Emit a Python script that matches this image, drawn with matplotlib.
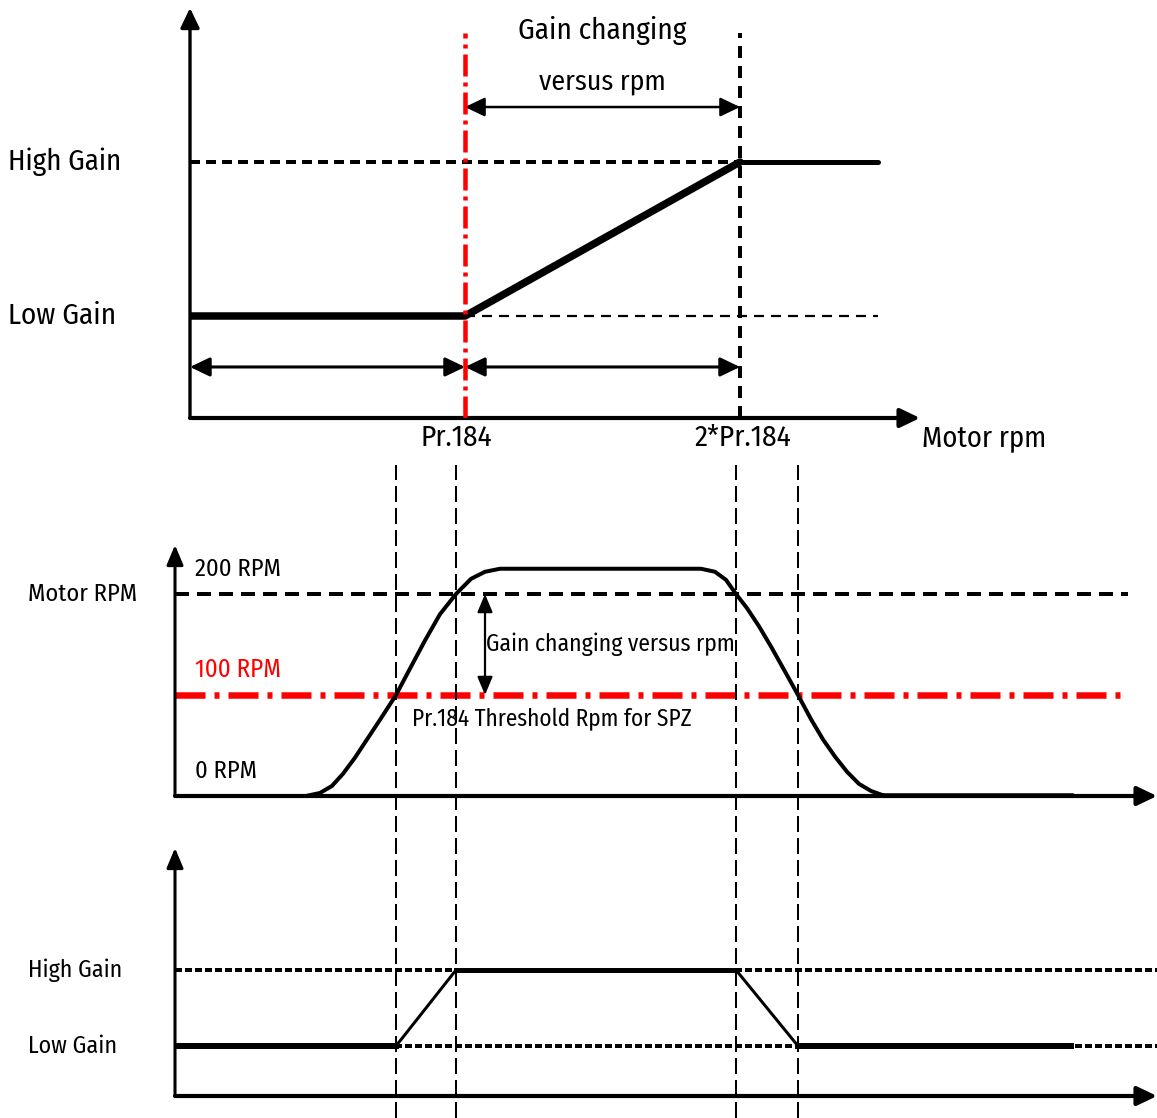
import numpy as np
import matplotlib
matplotlib.use("Agg")
import matplotlib.pyplot as plt
import matplotlib.transforms as mtransforms
from matplotlib import font_manager as fm

# ---- data ----
# top panel: gain versus motor rpm (Pr.184 taken as 100 rpm)
rpm_ticks = [100, 200]
rpm_tick_labels = ["Pr.184", "2*Pr.184"]
ramp_rpm = [0, 100, 200]
ramp_gain = [0, 0, 1]
hold_rpm = [200, 250]
hold_gain = [1, 1]
gain_names = ["Low Gain", "High Gain"]

# middle panel: motor speed profile over time (ms)
speed_t = [0, 131, 145, 157, 168, 180, 192, 206, 221, 236, 250, 265, 281, 296, 310, 325,
           526, 540, 551, 561, 572, 584, 596, 609, 623, 636, 648, 660, 672, 684, 696, 710, 896]
speed_rpm = [0, 0, 3, 10, 22, 38, 56, 77, 100, 128, 154, 180, 200, 215, 222, 225,
             225, 222, 214, 200, 186, 168, 148, 125, 100, 76, 56, 39, 24, 12, 5, 0, 0]
rpm_levels = [0, 100, 200]
rpm_level_labels = ["0 RPM", "100 RPM", "200 RPM"]
threshold_rpm = 100
upper_rpm = 200

# bottom panel: gain state over time
switch_t = [221, 281, 561, 623]
gain_t = [0, 221, 281, 561, 623, 896]
gain_state = [0, 0, 1, 1, 0, 0]

# ---- font: a narrow humanist face if one is around ----
have = {f.name for f in fm.fontManager.ttflist}
narrow = [n for n in ("Fira Sans Condensed", "PT Sans Narrow", "Roboto Condensed",
                      "Open Sans Condensed", "Sofia Sans Semi Condensed",
                      "Liberation Sans Narrow", "Archivo Narrow") if n in have]
plt.rcParams['font.family'] = narrow[:1] + ['DejaVu Sans']
plt.rcParams['lines.scale_dashes'] = False

# ---- figure ----
W, H = 1157, 1118
fig = plt.figure(figsize=(W / 100, H / 100), dpi=100)
fig.patch.set_facecolor('white')
renderer = fig.canvas.get_renderer()
RED = '#ff0000'
PX = 0.72  # points per pixel at dpi 100


def panel(left, top, right, bottom, xlim, ylim):
    ax = fig.add_axes([left / W, 1 - bottom / H, (right - left) / W, (bottom - top) / H])
    ax.set_xlim(*xlim)
    ax.set_ylim(*ylim)
    ax.axis('off')
    return ax


def arrow(ax, p0, p1, style='-|>', lw=3, ms=12, hl=1.0, hw=0.48):
    ax.annotate('', xy=p1, xytext=p0, annotation_clip=False,
                arrowprops=dict(arrowstyle=f'{style},head_length={hl},head_width={hw}',
                                lw=lw, color='k', mutation_scale=ms,
                                shrinkA=0, shrinkB=0))


def label(x, y, s, width_px, transform, ha='left', color='k'):
    t = fig.text(x, y, s, ha=ha, va='center', color=color, fontsize=20,
                 transform=transform)
    w = t.get_window_extent(renderer).width
    t.set_fontsize(20 * width_px / w)
    return t


def dash(px_list):
    return [p * PX for p in px_list]


# ---- top: gain vs motor rpm ----
ax1 = panel(190, 8, 920, 418, (0, 730 / 2.75), (-102 / 154, 308 / 154))
y_lo1, y_hi1 = ax1.get_ylim()
x_hi1 = ax1.get_xlim()[1]
arrow(ax1, (0, y_lo1), (0, y_hi1), lw=2.4)
arrow(ax1, (0, y_lo1), (x_hi1, y_lo1), lw=3)
top_guide = 1.838
ax1.plot([rpm_ticks[1]] * 2, [y_lo1, top_guide], color='k', lw=4 * PX, dashes=dash([12, 8]))
ax1.plot([0, rpm_ticks[1]], [1, 1], color='k', lw=4 * PX, dashes=dash([10, 6]))
ax1.plot([rpm_ticks[0], hold_rpm[1]], [0, 0], color='k', lw=2.2 * PX, dashes=dash([10, 7]))
ax1.plot(ramp_rpm, ramp_gain, color='k', lw=7.5 * PX, solid_capstyle='round',
         solid_joinstyle='round', zorder=3)
ax1.plot(hold_rpm, hold_gain, color='k', lw=5 * PX, solid_capstyle='round', zorder=3)
ax1.plot([rpm_ticks[0]] * 2, [y_lo1, top_guide], color=RED, lw=4.5 * PX,
         dashes=dash([22, 6, 4, 6]), zorder=4)
arrow(ax1, (0, -0.331), (rpm_ticks[0], -0.331), style='<|-|>', lw=2.2)
arrow(ax1, (rpm_ticks[0], -0.331), (rpm_ticks[1], -0.331), style='<|-|>', lw=2.2)
arrow(ax1, (rpm_ticks[0], 1.357), (rpm_ticks[1], 1.357), style='<|-|>', lw=1.8)

blend_l1 = mtransforms.blended_transform_factory(fig.transFigure, ax1.transData)
label(8 / W, 1, gain_names[1], 113, blend_l1)
label(8 / W, 0, gain_names[0], 108, blend_l1)
label(150, 1.857, "Gain changing", 168, ax1.transData, ha='center')
label(150, 1.519, "versus rpm", 127, ax1.transData, ha='center')
label(rpm_ticks[0] - 3.3, -0.792, rpm_tick_labels[0], 72, ax1.transData, ha='center')
label(rpm_ticks[1] + 1, -0.792, rpm_tick_labels[1], 97, ax1.transData, ha='center')
label(x_hi1 + 0.7, -0.792, "Motor rpm", 124, ax1.transData)

# ---- middle: motor rpm vs time ----
ax2 = panel(175, 545, 1157, 796, (0, 982), (0, 251 / 1.01))
x_hi2 = ax2.get_xlim()[1]
y_hi2 = ax2.get_ylim()[1]
arrow(ax2, (0, 0), (0, y_hi2), lw=2.2, hw=0.42)
arrow(ax2, (0, 0), (x_hi2, 0), lw=3)
ax2.plot([0, 953], [upper_rpm] * 2, color='k', lw=4 * PX, dashes=dash([14, 8]))
ax2.plot([0, 953], [threshold_rpm] * 2, color=RED, lw=6.5 * PX, dashes=dash([30, 9, 5, 9]))
ax2.plot(speed_t, speed_rpm, color='k', lw=4 * PX, solid_joinstyle='round', zorder=3)
ax2.plot(speed_t[-2:], speed_rpm[-2:], color='k', lw=5.5 * PX, zorder=3)
arrow(ax2, (310, upper_rpm), (310, threshold_rpm), style='<|-|>', lw=1.6, ms=11, hw=0.42)

blend_l2 = mtransforms.blended_transform_factory(fig.transFigure, ax2.transData)
for lvl, txt in zip(rpm_levels, rpm_level_labels):
    label(195 / W, lvl + 25, txt, 86 if lvl else 62, blend_l2,
          color=RED if lvl == threshold_rpm else 'k')
label(28 / W, upper_rpm, "Motor RPM", 109, blend_l2)
label(311, 150.5, "Gain changing versus rpm", 249, ax2.transData)
label(237, 76.2, "Pr.184 Threshold Rpm for SPZ", 280, ax2.transData)

# ---- bottom: gain vs time ----
ax3 = panel(175, 848, 1157, 1096, (0, 982), (-50 / 76, 198 / 76))
y_lo3, y_hi3 = ax3.get_ylim()
arrow(ax3, (0, y_lo3), (0, y_hi3), lw=2.2, hw=0.42)
arrow(ax3, (0, y_lo3), (x_hi2, y_lo3), lw=3)
for g in (0, 1):
    ax3.plot([0, x_hi2], [g, g], color='k', lw=4 * PX, dashes=dash([7, 3]))
ax3.plot(gain_t[:2], gain_state[:2], color='k', lw=6 * PX, zorder=3)
ax3.plot(gain_t[4:], gain_state[4:], color='k', lw=6 * PX, zorder=3)
ax3.plot(gain_t[2:4], gain_state[2:4], color='k', lw=5 * PX, zorder=3)
ax3.plot(gain_t[1:3], gain_state[1:3], color='k', lw=3 * PX, zorder=3)
ax3.plot(gain_t[3:5], gain_state[3:5], color='k', lw=3 * PX, zorder=3)

blend_l3 = mtransforms.blended_transform_factory(fig.transFigure, ax3.transData)
label(28 / W, 1, gain_names[1], 94, blend_l3)
label(28 / W, 0, gain_names[0], 89, blend_l3)

# switching instants run through both time panels
blend_v = mtransforms.blended_transform_factory(ax2.transData, fig.transFigure)
for ts in switch_t:
    fig.add_artist(plt.Line2D([ts, ts], [0, 1 - 465 / H], transform=blend_v,
                              color='k', lw=2 * PX, dashes=dash([16, 6])))

fig.savefig("out.png", dpi=100, facecolor='white')
